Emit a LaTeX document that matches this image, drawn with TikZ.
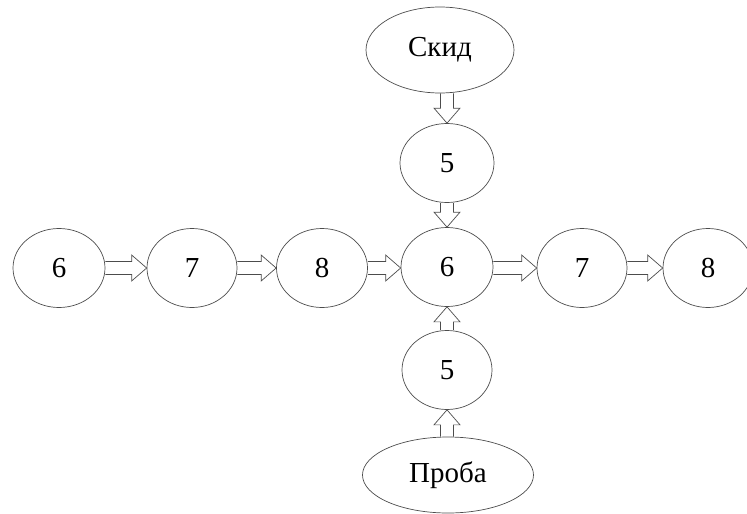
\documentclass[tikz,border=0pt]{standalone}
\usepackage{fontspec}
\setmainfont{Liberation Serif}
\usetikzlibrary{shapes.geometric,calc}

\newcommand{\shaftw}{6.5pt}
\newcommand{\headw}{13pt}
\newcommand{\headlen}{15pt}

\tikzset{
  oval/.style={ellipse, draw=black!70, line width=0.7pt, inner sep=0pt,
    font=\fontsize{29}{33}\selectfont},
  small/.style={oval, minimum width=92pt, minimum height=79pt},
  blockarrow/.style={draw=black!70, line width=0.7pt, to path={
    ($(\tikztotarget)!\headlen!(\tikztostart)$) coordinate (ah)
    ($(\tikztostart)!\shaftw!90:(\tikztotarget)$)
      -- ($(ah)!\shaftw!90:(\tikztotarget)$)
      -- ($(ah)!\headw!90:(\tikztotarget)$)
      -- (\tikztotarget)
      -- ($(ah)!\headw!-90:(\tikztotarget)$)
      -- ($(ah)!\shaftw!-90:(\tikztotarget)$)
      -- ($(\tikztostart)!\shaftw!-90:(\tikztotarget)$)
  }}
}

\begin{document}
\begin{tikzpicture}[x=1pt, y=-1pt]
  \useasboundingbox (0,0) rectangle (747,514);

  % vertical chain
  \node[oval, minimum width=148pt, minimum height=86pt] (skid) at (440,50) {Скид};
  \node[small, minimum width=94pt] (top5) at (447,163) {5};
  \node[small] (c6)   at (447,267) {6};
  \node[small, minimum width=90pt] (bot5) at (447,370) {5};
  \node[oval, minimum width=171pt, minimum height=76pt] (proba) at (448,475) {Проба};

  % horizontal chain
  \node[small] (l6) at (59,268) {6};
  \node[small, minimum width=90pt] (l7) at (192,268) {7};
  \node[small, minimum width=91pt] (l8) at (322,268) {8};
  \node[small, minimum width=90pt] (r7) at (582,268) {7};
  \node[small, minimum width=90pt] (r8) at (708,268) {8};

  % flow arrows
  \draw[blockarrow] (skid.south -| top5) to (top5.north);
  \draw[blockarrow] (top5.south) to (c6.north);
  \draw[blockarrow] (bot5.north) to (c6.south);
  \draw[blockarrow] (proba.north -| bot5) to (bot5.south);
  \draw[blockarrow] (l6.east) to (l7.west);
  \draw[blockarrow] (l7.east) to (l8.west);
  \draw[blockarrow] (l8.east) to (l8.east -| c6.west);
  \draw[blockarrow] (c6.east |- r7.west) to (r7.west);
  \draw[blockarrow] (r7.east) to (r8.west);
\end{tikzpicture}
\end{document}
